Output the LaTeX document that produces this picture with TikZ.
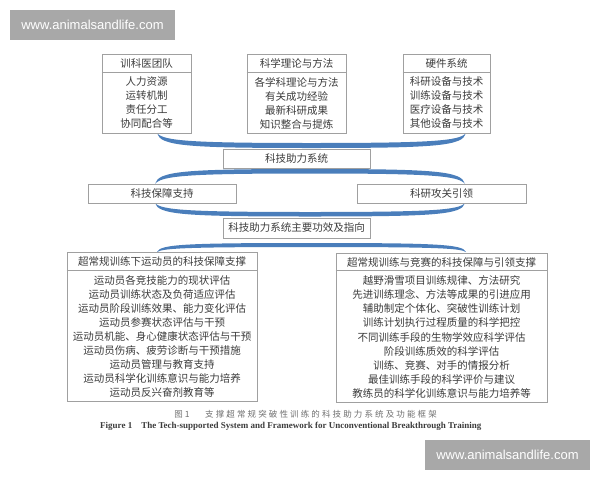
\documentclass[tikz,border=0pt]{standalone}
\usepackage{fontspec}
\setmainfont{Liberation Serif}
\newfontfamily\cjk{Noto Sans CJK SC}
\newfontfamily\cjkcap[LetterSpace=25]{Noto Sans CJK SC}
\newfontfamily\wmfont{Liberation Sans}
\usetikzlibrary{calc}
\definecolor{boxline}{HTML}{A0A0A0}
\definecolor{txtcol}{HTML}{3C3C3C}
\definecolor{swooshblue}{HTML}{4A7EBB}
\definecolor{wmgray}{HTML}{A8A8A8}
\definecolor{capgray}{HTML}{707070}
\tikzset{
  frame/.style={draw=boxline, line width=0.8pt, fill=white, inner sep=0pt},
  txt/.style={text=txtcol, font=\cjk\fontsize{10.5}{14}\selectfont, inner sep=0pt, align=center},
  bodytxt/.style={txt, font=\cjk\fontsize{10.5}{14.1}\selectfont},
  divider/.style={draw=boxline, line width=0.8pt},
  swooshfill/.style={fill=swooshblue},
  wm/.style={fill=wmgray, text=white, font=\wmfont\fontsize{13}{15}\selectfont, minimum width=165pt, minimum height=30pt, inner sep=0pt}
}
% #1 left end, #2 right end, #3 outer offset, #4 inner offset (canvas, pt)
\newcommand\swoosh[4]{%
  \fill[swooshfill] let \p1=(#1), \p2=(#2), \p3=($(#1)!0.5!(#2)$) in
    (\p1) .. controls ({\x1+3pt},{\y1+0.87*(#3)}) and ({\x1+30pt},{\y1+(#3)}) .. (\x3,{\y1+(#3)})
    .. controls ({\x2-30pt},{\y1+(#3)}) and ({\x2-3pt},{\y1+0.87*(#3)}) .. (\p2)
    .. controls ({\x2-6pt},{\y1+0.8*(#4)}) and ({\x2-35pt},{\y1+(#4)}) .. (\x3,{\y1+(#4)})
    .. controls ({\x1+35pt},{\y1+(#4)}) and ({\x1+6pt},{\y1+0.8*(#4)}) .. (\p1) -- cycle;}
\begin{document}
\begin{tikzpicture}[x=1pt,y=-1pt]
\useasboundingbox (0,0) rectangle (600,480);
% swoosh end points
\coordinate (a1L) at (157,133); \coordinate (a1R) at (466,133);
\coordinate (a2L) at (155,184); \coordinate (a2R) at (465,184);
\coordinate (a3L) at (155,203); \coordinate (a3R) at (465,203);
\coordinate (a4L) at (157,252); \coordinate (a4R) at (466,252);
\swoosh{a1L}{a1R}{-15pt}{-10pt}
\swoosh{a2L}{a2R}{15pt}{10.5pt}
\swoosh{a3L}{a3R}{-13.5pt}{-9pt}
\swoosh{a4L}{a4R}{9pt}{5pt}
% top boxes
\node[frame, minimum width=89pt, minimum height=79pt] (t1) at (146.5,93.5) {};
\node[frame, minimum width=99pt, minimum height=79pt] (t2) at (296.5,93.5) {};
\node[frame, minimum width=87pt, minimum height=79pt] (t3) at (446.5,93.5) {};
\foreach \b in {t1,t2,t3}{
  \draw[divider] ($(\b.north west)+(0,19)$) -- ($(\b.north east)+(0,19)$);
}
\node[txt] (t1h) at (146.5,63.5) {训科医团队};
\node[txt] (t1b) at (146.5,103) {人力资源\\运转机制\\责任分工\\协同配合等};
\node[txt] (t2h) at (296.5,63.5) {科学理论与方法};
\node[txt] (t2b) at (296.5,103) {各学科理论与方法\\有关成功经验\\最新科研成果\\知识整合与提炼};
\node[txt] (t3h) at (446.5,63.5) {硬件系统};
\node[txt] (t3b) at (446.5,103) {科研设备与技术\\训练设备与技术\\医疗设备与技术\\其他设备与技术};
% middle boxes
\node[frame, txt, minimum width=147pt, minimum height=19pt] (m1) at (296.5,158.5) {科技助力系统};
\node[frame, txt, minimum width=148pt, minimum height=19pt] (m2) at (162,193.5) {科技保障支持};
\node[frame, txt, minimum width=169pt, minimum height=19pt] (m3) at (441.5,193.5) {科研攻关引领};
\node[frame, txt, minimum width=147pt, minimum height=20pt] (m4) at (296.5,228) {科技助力系统主要功效及指向};
% bottom boxes
\node[frame, minimum width=190pt, minimum height=149pt] (bl) at (162,326.5) {};
\node[frame, minimum width=211pt, minimum height=149pt] (br) at (441.5,327.5) {};
\draw[divider] ($(bl.north west)+(0,19)$) -- ($(bl.north east)+(0,19)$);
\draw[divider] ($(br.north west)+(0,18)$) -- ($(br.north east)+(0,18)$);
\node[txt] (blh) at (162,261.5) {超常规训练下运动员的科技保障支撑};
\node[bodytxt] (blb) at (162,336.5) {运动员各竞技能力的现状评估\\运动员训练状态及负荷适应评估\\运动员阶段训练效果、能力变化评估\\运动员参赛状态评估与干预\\运动员机能、身心健康状态评估与干预\\运动员伤病、疲劳诊断与干预措施\\运动员管理与教育支持\\运动员科学化训练意识与能力培养\\运动员反兴奋剂教育等};
\node[txt] (brh) at (441.5,262) {超常规训练与竞赛的科技保障与引领支撑};
\node[bodytxt] (brb) at (441.5,337) {越野滑雪项目训练规律、方法研究\\先进训练理念、方法等成果的引进应用\\辅助制定个体化、突破性训练计划\\训练计划执行过程质量的科学把控\\不同训练手段的生物学效应科学评估\\阶段训练质效的科学评估\\训练、竞赛、对手的情报分析\\最佳训练手段的科学评价与建议\\教练员的科学化训练意识与能力培养等};
% captions
\node[inner sep=0pt, text=capgray, font=\cjk\fontsize{8.5}{10}\selectfont] (cap0) at (182,414) {图 1};
\node[inner sep=0pt, anchor=west, text=capgray, font=\cjkcap\fontsize{8.5}{10}\selectfont] (cap1) at (205,414) {支撑超常规突破性训练的科技助力系统及功能框架};
\node[inner sep=0pt, anchor=west, text=txtcol, font=\bfseries\fontsize{9}{11}\selectfont] (cap2) at (100,426) {Figure 1\quad The Tech-supported System and Framework for Unconventional Breakthrough Training};
% watermarks
\node[wm] (wm1) at (92.5,25) {www.animalsandlife.com};
\node[wm] (wm2) at (507.5,455) {www.animalsandlife.com};
\end{tikzpicture}
\end{document}
